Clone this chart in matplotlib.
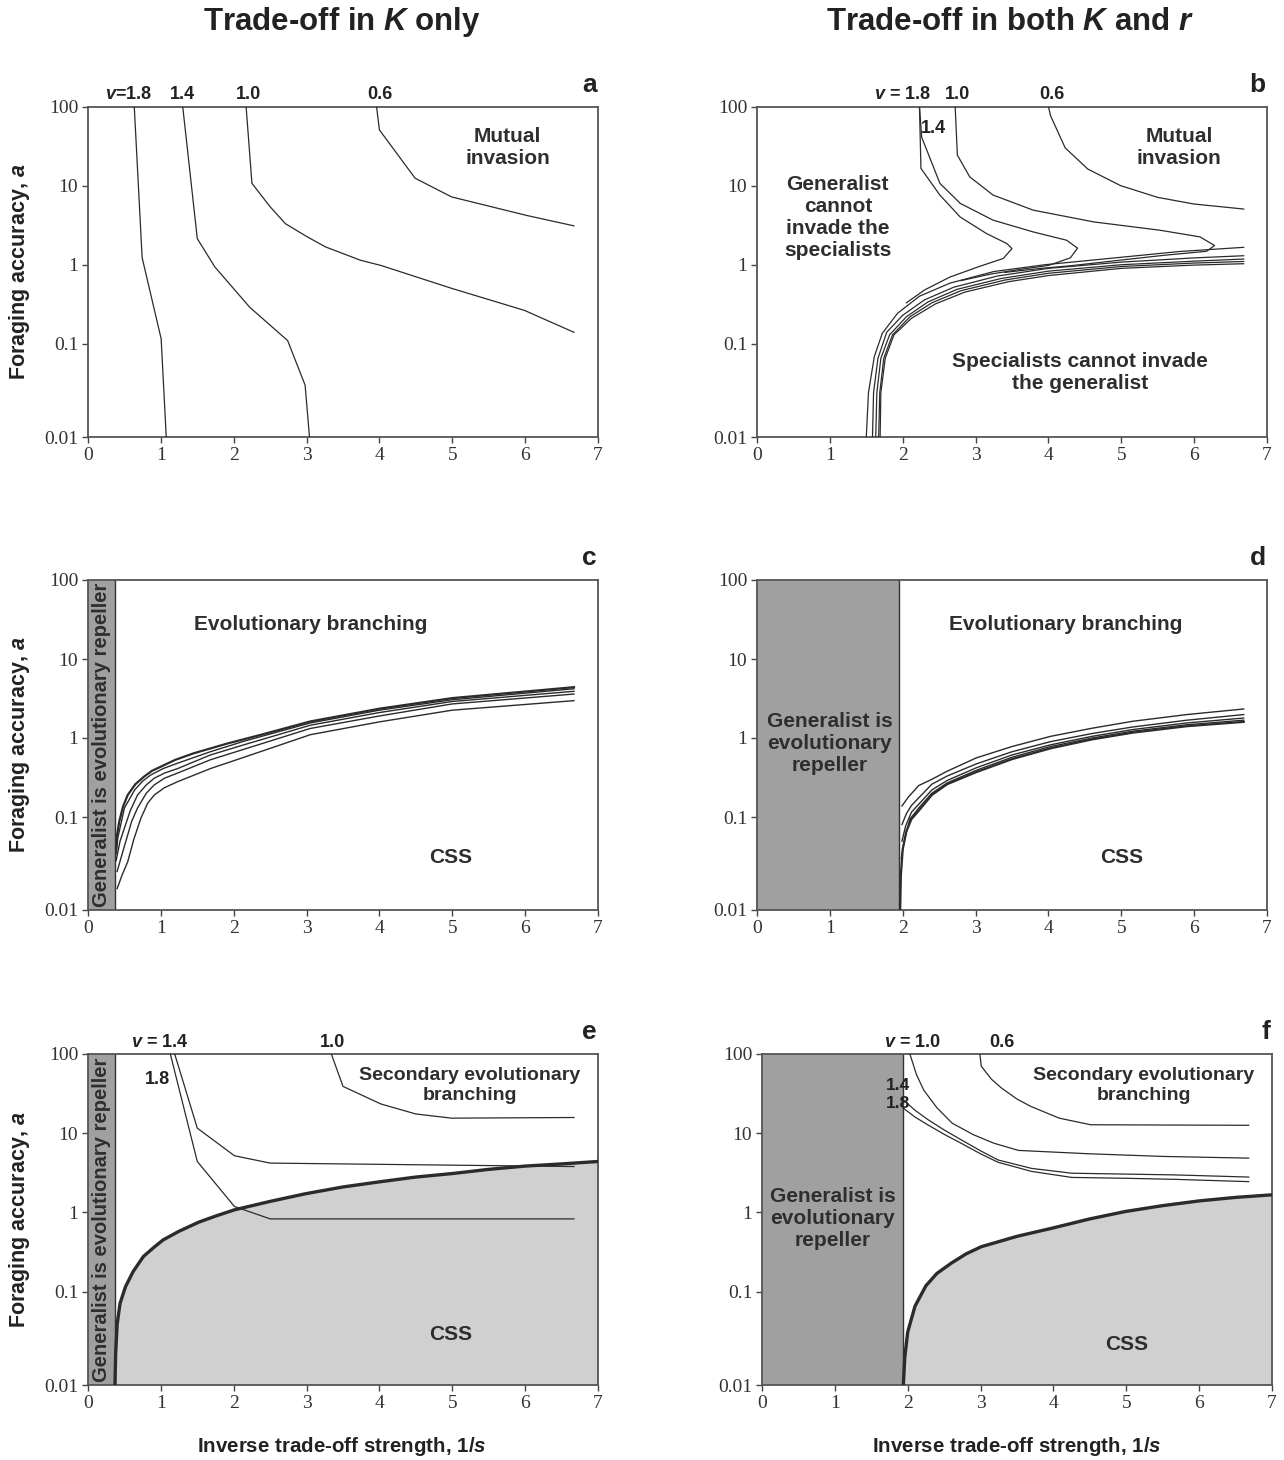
import numpy as np
import matplotlib
matplotlib.use('Agg')
import matplotlib.pyplot as plt
from matplotlib.ticker import FixedLocator, NullLocator, FixedFormatter

plt.rcParams['font.family'] = ['Liberation Sans', 'DejaVu Sans']
plt.rcParams['mathtext.fontset'] = 'custom'
plt.rcParams['mathtext.rm'] = 'Liberation Sans:bold'
plt.rcParams['mathtext.it'] = 'Liberation Sans:italic:bold'
plt.rcParams['mathtext.bf'] = 'Liberation Sans:bold'

# ---------------- data ----------------
x_ticks = [0, 1, 2, 3, 4, 5, 6, 7]
y_ticks = [0.01, 0.1, 1, 10, 100]
y_tick_labels = ['0.01', '0.1', '1', '10', '100']

# panel a
a_v18_x = [0.635, 0.743, 1.004, 1.074]
a_v18_y = [100, 1.23, 0.116, 0.01]
a_v14_x = [1.30, 1.50, 1.74, 2.22, 2.74, 2.98, 3.04]
a_v14_y = [100, 2.14, 0.94, 0.29, 0.110, 0.036, 0.01]
a_v10_x = [2.17, 2.25, 2.50, 2.71, 3.01, 3.26, 3.74, 4.02, 5.0, 5.99, 6.67]
a_v10_y = [100, 10.7, 5.4, 3.3, 2.25, 1.68, 1.14, 0.98, 0.50, 0.265, 0.14]
a_v06_x = [3.96, 4.0, 4.49, 4.99, 6.02, 6.67]
a_v06_y = [100, 50.6, 12.4, 7.2, 4.2, 3.1]

# panel b: upper boundaries (generalist cannot invade)
b_v18_x = [2.23, 2.25, 2.51, 2.79, 3.15, 3.43, 3.50, 3.38, 3.05, 2.65, 2.30, 2.05]
b_v18_y = [100, 16.5, 7.6, 4.0, 2.48, 1.85, 1.60, 1.2, 0.95, 0.70, 0.48, 0.33]
b_v14_x = [2.23, 2.26, 2.51, 2.79, 3.24, 3.79, 4.25, 4.40, 4.30, 4.0, 3.6, 3.2, 2.8]
b_v14_y = [100, 41, 10.7, 5.96, 3.66, 2.6, 2.04, 1.62, 1.22, 0.98, 0.87, 0.76, 0.63]
b_v10_x = [2.72, 2.75, 2.92, 3.24, 3.79, 4.62, 5.53, 6.08, 6.28, 6.17, 5.6, 4.9, 4.3, 3.9, 3.4]
b_v10_y = [100, 24.3, 12.9, 7.6, 4.9, 3.48, 2.73, 2.25, 1.75, 1.48, 1.32, 1.12, 0.97, 0.90, 0.80]
b_v06_x = [4.0, 4.03, 4.23, 4.54, 4.99, 5.50, 6.0, 6.68]
b_v06_y = [100, 76, 30, 16.2, 10, 7.1, 5.85, 5.06]
# panel b: lower boundaries (specialists cannot invade)
b_low1_x = [1.50, 1.53, 1.61, 1.72, 1.93, 2.23, 2.65, 3.25, 3.95, 4.87, 5.80, 6.68]
b_low1_y = [0.01, 0.03, 0.073, 0.136, 0.244, 0.40, 0.586, 0.82, 1.0, 1.21, 1.47, 1.66]
b_low2_x = [1.585, 1.60, 1.66, 1.78, 2.0, 2.3, 2.7, 3.3, 4.0, 5.0, 6.0, 6.68]
b_low2_y = [0.01, 0.03, 0.07, 0.14, 0.23, 0.36, 0.52, 0.72, 0.90, 1.08, 1.22, 1.30]
b_low3_x = [1.63, 1.645, 1.70, 1.82, 2.05, 2.35, 2.75, 3.35, 4.0, 5.0, 6.0, 6.68]
b_low3_y = [0.01, 0.03, 0.07, 0.13, 0.22, 0.34, 0.49, 0.67, 0.83, 1.0, 1.11, 1.18]
b_low4_x = [1.67, 1.685, 1.74, 1.86, 2.1, 2.4, 2.8, 3.4, 4.0, 5.0, 6.0, 6.68]
b_low4_y = [0.01, 0.03, 0.07, 0.13, 0.22, 0.33, 0.47, 0.64, 0.78, 0.95, 1.05, 1.10]
b_low5_x = [1.69, 1.70, 1.76, 1.88, 2.12, 2.45, 2.85, 3.45, 4.0, 5.0, 6.0, 6.68]
b_low5_y = [0.01, 0.03, 0.07, 0.13, 0.21, 0.32, 0.45, 0.61, 0.73, 0.90, 0.99, 1.03]

# panel c
c_repeller = 0.37
c1_x = [0.386, 0.40, 0.43, 0.48, 0.545, 0.65, 0.77, 0.88, 1.0, 1.2, 1.45, 1.91, 2.36, 3.05, 4.0, 5.0, 6.67]
c1_y = [0.045, 0.065, 0.09, 0.135, 0.19, 0.26, 0.325, 0.385, 0.434, 0.53, 0.64, 0.85, 1.09, 1.62, 2.35, 3.2, 4.4]
c2_x = [0.386, 0.41, 0.50, 0.64, 0.75, 0.86, 1.03, 1.23, 1.68, 2.14, 3.05, 4.0, 5.0, 6.67]
c2_y = [0.040, 0.06, 0.13, 0.22, 0.285, 0.34, 0.41, 0.48, 0.67, 0.91, 1.55, 2.25, 3.05, 4.2]
c3_x = [0.386, 0.44, 0.50, 0.58, 0.68, 0.80, 0.91, 1.05, 1.23, 1.68, 2.14, 3.05, 4.0, 5.0, 6.67]
c3_y = [0.034, 0.055, 0.076, 0.12, 0.19, 0.255, 0.31, 0.36, 0.41, 0.61, 0.82, 1.45, 2.1, 2.9, 3.9]
c4_x = [0.40, 0.46, 0.52, 0.60, 0.68, 0.80, 0.91, 1.05, 1.23, 1.68, 2.14, 3.05, 4.0, 5.0, 6.67]
c4_y = [0.026, 0.038, 0.055, 0.09, 0.13, 0.20, 0.255, 0.31, 0.36, 0.53, 0.72, 1.32, 1.9, 2.7, 3.6]
c5_x = [0.40, 0.47, 0.545, 0.63, 0.727, 0.82, 0.91, 1.05, 1.23, 1.68, 2.14, 3.05, 4.0, 5.0, 6.67]
c5_y = [0.017, 0.024, 0.033, 0.058, 0.0975, 0.15, 0.19, 0.235, 0.28, 0.41, 0.57, 1.1, 1.6, 2.25, 2.97]

# panel d
d_repeller = 1.95
d1_x = [1.99, 2.08, 2.22, 2.40, 2.61, 3.01, 3.5, 4.03, 4.6, 5.16, 5.9, 6.68]
d1_y = [0.138, 0.18, 0.25, 0.30, 0.38, 0.56, 0.78, 1.05, 1.33, 1.63, 1.98, 2.33]
d2_x = [1.99, 2.05, 2.12, 2.22, 2.40, 2.61, 3.01, 3.5, 4.03, 4.6, 5.16, 5.9, 6.68]
d2_y = [0.083, 0.11, 0.14, 0.175, 0.26, 0.33, 0.47, 0.67, 0.90, 1.14, 1.38, 1.68, 1.98]
d3_x = [1.99, 2.04, 2.12, 2.22, 2.40, 2.61, 3.01, 3.5, 4.03, 4.6, 5.16, 5.9, 6.68]
d3_y = [0.055, 0.08, 0.115, 0.145, 0.22, 0.29, 0.42, 0.61, 0.82, 1.05, 1.28, 1.55, 1.79]
d4_x = [1.98, 2.03, 2.10, 2.22, 2.40, 2.61, 3.01, 3.5, 4.03, 4.6, 5.16, 5.9, 6.68]
d4_y = [0.036, 0.06, 0.095, 0.13, 0.20, 0.27, 0.39, 0.57, 0.78, 1.0, 1.22, 1.47, 1.68]
d5_x = [1.965, 1.975, 2.0, 2.05, 2.12, 2.22, 2.40, 2.61, 3.01, 3.5, 4.03, 4.6, 5.16, 5.9, 6.68]
d5_y = [0.01, 0.024, 0.045, 0.07, 0.095, 0.12, 0.19, 0.26, 0.37, 0.54, 0.74, 0.96, 1.17, 1.41, 1.6]

# panel e
e_repeller = 0.37
e_css_x = [0.37, 0.375, 0.38, 0.40, 0.44, 0.515, 0.62, 0.76, 0.90, 1.03, 1.25, 1.52, 1.75, 2.01,
           2.50, 2.98, 3.5, 4.02, 4.5, 5.0, 5.5, 6.0, 6.5, 7.0]
e_css_y = [0.01, 0.015, 0.022, 0.045, 0.075, 0.116, 0.18, 0.278, 0.36, 0.45, 0.58, 0.755, 0.9, 1.08,
           1.38, 1.72, 2.1, 2.45, 2.8, 3.1, 3.5, 3.85, 4.1, 4.4]
e_v14_x = [1.19, 1.50, 2.01, 2.50, 6.67]
e_v14_y = [100, 11.6, 5.2, 4.2, 3.8]
e_v18_x = [1.13, 1.50, 2.01, 2.50, 6.67]
e_v18_y = [100, 4.4, 1.19, 0.83, 0.83]
e_v10_x = [3.34, 3.50, 4.02, 4.50, 4.99, 6.67]
e_v10_y = [100, 39, 23.4, 17.5, 15.5, 15.8]

# panel f
f_repeller = 1.94
f_css_x = [1.94, 1.96, 2.0, 2.1, 2.25, 2.4, 2.6, 2.8, 3.01, 3.5, 3.97, 4.5, 4.99, 5.5, 6.0, 6.5, 7.0]
f_css_y = [0.01, 0.02, 0.037, 0.07, 0.119, 0.17, 0.23, 0.3, 0.37, 0.5, 0.63, 0.83, 1.03, 1.22, 1.40, 1.55, 1.67]
f_v10_x = [2.03, 2.12, 2.22, 2.40, 2.61, 2.9, 3.18, 3.52, 4.5, 5.5, 6.68]
f_v10_y = [100, 55, 35, 21, 13.4, 9.6, 7.5, 6.07, 5.5, 5.1, 4.85]
f_v06_x = [2.99, 3.01, 3.15, 3.29, 3.5, 3.69, 4.08, 4.51, 5.5, 6.68]
f_v06_y = [100, 70, 48, 37, 27, 21.8, 15.5, 12.8, 12.7, 12.6]
f_v14_x = [1.94, 2.1, 2.28, 2.5, 2.73, 3.0, 3.24, 3.7, 4.25, 5.0, 5.66, 6.68]
f_v14_y = [26.4, 19.5, 14.8, 11.0, 8.3, 6.0, 4.6, 3.6, 3.13, 3.05, 2.98, 2.80]
f_v18_x = [1.94, 2.1, 2.28, 2.5, 2.73, 3.0, 3.24, 3.7, 4.25, 5.0, 5.66, 6.68]
f_v18_y = [20.7, 16.0, 12.7, 9.7, 7.5, 5.5, 4.3, 3.3, 2.77, 2.70, 2.62, 2.45]

# ---------------- styling ----------------
LINE = '#2b2b2b'
TXT = '#2e2e2e'
BAND = '#a0a0a0'
CSSFILL = '#d0d0d0'
K_STRETCH = 93.0 / 79.0   # bottom decade is drawn taller in the original


def fwd(y):
    y = np.asarray(y, dtype=float)
    l = np.log10(np.clip(y, 1e-300, None))
    return np.where(l >= -1, l, -1 + (l + 1) * K_STRETCH)


def inv(t):
    t = np.asarray(t, dtype=float)
    return np.where(t >= -1, 10.0 ** t, 10.0 ** (-1 + (t + 1) / K_STRETCH))


fig = plt.figure(figsize=(12.84, 14.60), dpi=100)
W, H = 1284.0, 1460.0


def make_ax(left_px, top_px, right_px, bottom_px):
    ax = fig.add_axes([left_px / W, 1 - bottom_px / H,
                       (right_px - left_px) / W, (bottom_px - top_px) / H])
    ax.set_yscale('function', functions=(fwd, inv))
    ax.set_xlim(0, 7)
    ax.set_ylim(0.01, 100)
    ax.yaxis.set_major_locator(FixedLocator(y_ticks))
    ax.yaxis.set_major_formatter(FixedFormatter(y_tick_labels))
    ax.yaxis.set_minor_locator(NullLocator())
    ax.xaxis.set_major_locator(FixedLocator(x_ticks))
    ax.xaxis.set_minor_locator(NullLocator())
    ax.tick_params(direction='out', length=4, width=1.0, color='#444',
                   labelsize=14, labelcolor='#333', pad=3)
    for lab in ax.get_xticklabels() + ax.get_yticklabels():
        lab.set_fontfamily('Liberation Serif')
    for sp in ax.spines.values():
        sp.set_color('#555')
        sp.set_linewidth(1.3)
    ax.set_zorder(1)
    return ax


def letter(ax, s):
    ax.annotate(s, xy=(1.0, 1.0), xycoords='axes fraction', xytext=(-1, 7),
                textcoords='offset points', ha='right', va='bottom',
                fontsize=19, fontweight='bold', color='#222')


def toplabel(ax, x, s):
    ax.annotate(s, xy=(x, 1.0), xycoords=('data', 'axes fraction'),
                xytext=(0, 2.5), textcoords='offset points', ha='center',
                va='bottom', fontsize=13, fontweight='bold', color='#222')


def note(ax, x, y, s, size=15):
    ax.text(x, y, s, ha='center', va='center', fontsize=size,
            fontweight='bold', color=TXT, linespacing=1.2)


def line(ax, x, y, lw=0.9):
    ax.plot(x, y, color=LINE, lw=lw, solid_joinstyle='round', zorder=3)


def band(ax, xr):
    ax.axvspan(0, xr, color=BAND, lw=0, zorder=1)
    ax.axvline(xr, color='#333', lw=1.0, zorder=2)


axA = make_ax(88, 106.5, 598, 437)
axB = make_ax(757, 106.5, 1267, 437)
axC = make_ax(88, 580, 598, 910)
axD = make_ax(757, 580, 1267, 910)
axE = make_ax(88, 1054, 598, 1385)
axF = make_ax(762, 1054, 1272, 1385)

# ---- panel a
for xs, ys in [(a_v18_x, a_v18_y), (a_v14_x, a_v14_y), (a_v10_x, a_v10_y), (a_v06_x, a_v06_y)]:
    line(axA, xs, ys)
toplabel(axA, 0.55, r'$v$=1.8')
toplabel(axA, 1.29, '1.4')
toplabel(axA, 2.20, '1.0')
toplabel(axA, 4.0, '0.6')
note(axA, 5.76, 30, 'Mutual\ninvasion')
letter(axA, 'a')

# ---- panel b
for xs, ys in [(b_v18_x, b_v18_y), (b_v14_x, b_v14_y), (b_v10_x, b_v10_y), (b_v06_x, b_v06_y),
               (b_low1_x, b_low1_y), (b_low2_x, b_low2_y), (b_low3_x, b_low3_y),
               (b_low4_x, b_low4_y), (b_low5_x, b_low5_y)]:
    line(axB, xs, ys)
toplabel(axB, 2.0, r'$v$ = 1.8')
toplabel(axB, 2.75, '1.0')
toplabel(axB, 4.05, '0.6')
axB.text(2.42, 53, '1.4', ha='center', va='center', fontsize=13,
         fontweight='bold', color='#222')
note(axB, 5.79, 30, 'Mutual\ninvasion')
note(axB, 1.11, 3.9, 'Generalist\ncannot\ninvade the\nspecialists')
note(axB, 4.43, 0.049, 'Specialists cannot invade\nthe generalist')
letter(axB, 'b')

# ---- panel c
band(axC, c_repeller)
for xs, ys, w in [(c1_x, c1_y, 1.6), (c2_x, c2_y, 1.0), (c3_x, c3_y, 1.0),
                  (c4_x, c4_y, 1.0), (c5_x, c5_y, 1.0)]:
    line(axC, xs, ys, lw=w)
axC.text(0.185, 0.5, 'Generalist is evolutionary repeller', transform=axC.get_xaxis_transform(),
         rotation=90, ha='center', va='center', fontsize=14.5, fontweight='bold', color=TXT, zorder=4)
note(axC, 3.05, 27.7, 'Evolutionary branching')
note(axC, 4.98, 0.037, 'CSS')
letter(axC, 'c')

# ---- panel d
band(axD, d_repeller)
for xs, ys, w in [(d1_x, d1_y, 1.0), (d2_x, d2_y, 1.0), (d3_x, d3_y, 1.0),
                  (d4_x, d4_y, 1.0), (d5_x, d5_y, 1.6)]:
    line(axD, xs, ys, lw=w)
note(axD, 4.24, 27.7, 'Evolutionary branching')
note(axD, 1.0, 0.86, 'Generalist is\nevolutionary\nrepeller')
note(axD, 5.0, 0.037, 'CSS')
letter(axD, 'd')

# ---- panel e
axE.fill_between(e_css_x, 0.01, e_css_y, color=CSSFILL, lw=0, zorder=1)
band(axE, e_repeller)
line(axE, e_css_x, e_css_y, lw=2.4)
for xs, ys in [(e_v14_x, e_v14_y), (e_v18_x, e_v18_y), (e_v10_x, e_v10_y)]:
    line(axE, xs, ys)
axE.text(0.185, 0.5, 'Generalist is evolutionary repeller', transform=axE.get_xaxis_transform(),
         rotation=90, ha='center', va='center', fontsize=14.5, fontweight='bold', color=TXT, zorder=4)
toplabel(axE, 0.99, r'$v$ = 1.4')
toplabel(axE, 3.35, '1.0')
axE.text(0.95, 47, '1.8', ha='center', va='center', fontsize=13,
         fontweight='bold', color='#222')
note(axE, 5.24, 40, 'Secondary evolutionary\nbranching', size=14)
note(axE, 4.98, 0.035, 'CSS')
letter(axE, 'e')

# ---- panel f
axF.fill_between(f_css_x, 0.01, f_css_y, color=CSSFILL, lw=0, zorder=1)
band(axF, f_repeller)
line(axF, f_css_x, f_css_y, lw=2.4)
for xs, ys in [(f_v10_x, f_v10_y), (f_v06_x, f_v06_y), (f_v14_x, f_v14_y), (f_v18_x, f_v18_y)]:
    line(axF, xs, ys)
toplabel(axF, 2.06, r'$v$ = 1.0')
toplabel(axF, 3.29, '0.6')
axF.text(1.87, 40, '1.4', ha='center', va='center', fontsize=12.5,
         fontweight='bold', color='#222', zorder=5)
axF.text(1.87, 24, '1.8', ha='center', va='center', fontsize=12.5,
         fontweight='bold', color='#222', zorder=5)
note(axF, 5.24, 40, 'Secondary evolutionary\nbranching', size=14)
note(axF, 0.97, 0.84, 'Generalist is\nevolutionary\nrepeller')
note(axF, 5.0, 0.027, 'CSS')
letter(axF, 'f')

# ---- titles and axis labels
fig.text(342 / W, 1 - 22 / H, r'Trade-off in $K$ only', ha='center', va='center',
         fontsize=22.5, fontweight='bold', color='#222')
fig.text(1010 / W, 1 - 22 / H, r'Trade-off in both $K$ and $r$', ha='center', va='center',
         fontsize=22.5, fontweight='bold', color='#222')
for yc in [(106.5 + 437) / 2, (580 + 910) / 2, (1054 + 1385) / 2]:
    fig.text(20 / W, 1 - yc / H, r'Foraging accuracy, $a$', rotation=90, ha='center',
             va='center', fontsize=15.5, fontweight='bold', color='#222')
for xc in [342, 1017]:
    fig.text(xc / W, 1 - 1447 / H, r'Inverse trade-off strength, 1/$s$', ha='center',
             va='center', fontsize=14.8, fontweight='bold', color='#222')

fig.savefig('out.png', dpi=100, facecolor='white')
